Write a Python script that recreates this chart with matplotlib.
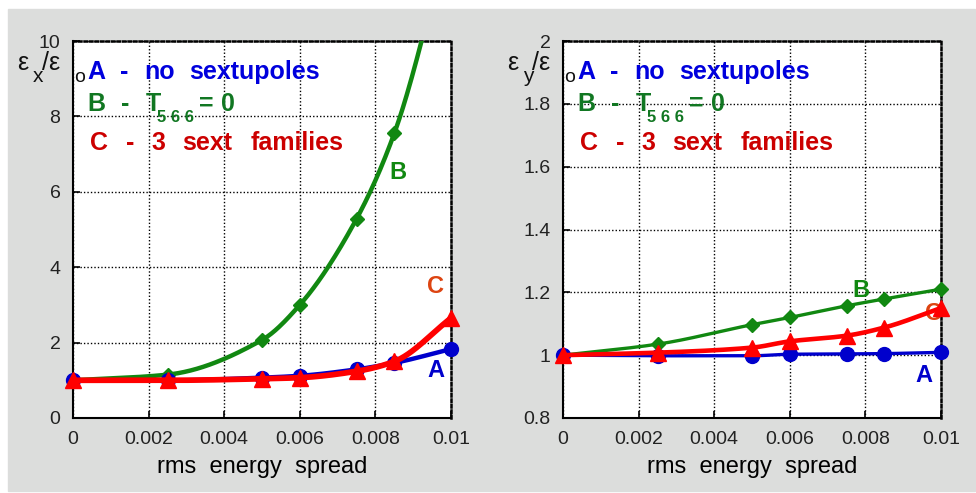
import numpy as np
import matplotlib
matplotlib.use("Agg")
import matplotlib.pyplot as plt
from matplotlib.patches import Rectangle

plt.rcParams['font.family'] = ['Liberation Sans', 'DejaVu Sans']

# rms energy spread sample points
spread = [0.0, 0.0025, 0.005, 0.006, 0.0075, 0.0085, 0.01]

# horizontal emittance growth eps_x / eps_0
ex_A = [1.0, 1.0, 1.07, 1.12, 1.29, 1.46, 1.83]
ex_B = [1.0, 1.15, 2.07, 3.0, 5.28, 7.55, 13.0]
ex_C = [1.0, 1.0, 1.04, 1.07, 1.24, 1.5, 2.65]

# vertical emittance growth eps_y / eps_0
ey_A = [1.0, 0.998, 0.998, 1.003, 1.004, 1.005, 1.009]
ey_B = [1.0, 1.035, 1.097, 1.12, 1.157, 1.179, 1.21]
ey_C = [1.0, 1.008, 1.024, 1.044, 1.062, 1.088, 1.15]

xticks = [0, 0.002, 0.004, 0.006, 0.008, 0.01]
xticklabels = ['0', '0.002', '0.004', '0.006', '0.008', '0.01']

blue = '#0000cc'
green = '#118811'
red = '#ff0000'


def pchip(x, y, xs):
    # monotone cubic through the points, used for the smooth curves
    x = np.asarray(x, float)
    y = np.asarray(y, float)
    h = np.diff(x)
    d = np.diff(y) / h
    m = np.zeros_like(y)
    m[0], m[-1] = d[0], d[-1]
    for k in range(1, len(x) - 1):
        if d[k - 1] * d[k] > 0:
            w1 = 2 * h[k] + h[k - 1]
            w2 = h[k] + 2 * h[k - 1]
            m[k] = (w1 + w2) / (w1 / d[k - 1] + w2 / d[k])
    i = np.clip(np.searchsorted(x, xs) - 1, 0, len(x) - 2)
    t = (xs - x[i]) / h[i]
    h00 = 2 * t**3 - 3 * t**2 + 1
    h10 = t**3 - 2 * t**2 + t
    h01 = -2 * t**3 + 3 * t**2
    h11 = t**3 - t**2
    return h00 * y[i] + h10 * h[i] * m[i] + h01 * y[i + 1] + h11 * h[i] * m[i + 1]


fig = plt.figure(figsize=(9.76, 4.93), dpi=100)
fig.patches.append(Rectangle((8 / 976, 2 / 493), 967 / 976, 482 / 493,
                             transform=fig.transFigure, color='#dcdddc', zorder=-10))

ax1 = fig.add_axes([73 / 976, 75 / 493, 378 / 976, 377 / 493])
ax2 = fig.add_axes([563 / 976, 75 / 493, 378 / 976, 377 / 493])

xs = np.linspace(0, 0.01, 300)


def series(ax, y, color, marker, ms, lw, z, ymax):
    ax.plot(xs, pchip(spread, y, xs), color=color, lw=lw, zorder=z)
    # markers may hang over the frame, but only for points inside the y range
    px = [a for a, b in zip(spread, y) if b <= ymax]
    py = [b for b in y if b <= ymax]
    ax.plot(px, py, marker, color=color, ms=ms, zorder=z, clip_on=False)


def draw(ax, a, b, c, lw, ymax):
    series(ax, b, green, 'D', 7, lw, 3, ymax)
    series(ax, a, blue, 'o', 10, lw, 4, ymax)
    series(ax, c, red, '^', 11, lw + 0.9, 5, ymax)


draw(ax1, ex_A, ex_B, ex_C, 3.2, 10)
draw(ax2, ey_A, ey_B, ey_C, 2.4, 2)

ax1.set_ylim(0, 10)
ax1.set_yticks([0, 2, 4, 6, 8, 10])
ax2.set_ylim(0.8, 2)
ax2.set_yticks([0.8, 1, 1.2, 1.4, 1.6, 1.8, 2])
ax2.set_yticklabels(['0.8', '1', '1.2', '1.4', '1.6', '1.8', '2'])

for ax in (ax1, ax2):
    ax.set_xlim(0, 0.01)
    ax.set_xticks(xticks)
    ax.set_xticklabels(xticklabels)
    ax.tick_params(direction='in', length=5, width=1.2, labelsize=14, pad=9)
    ax.grid(True, color='black', linestyle=(0, (1, 1.5)), linewidth=1)
    ax.set_axisbelow(True)
    ax.set_xlabel('rms  energy  spread', fontsize=17, labelpad=6)
    for s in ('left', 'bottom'):
        ax.spines[s].set_linewidth(1.5)
    for s in ('top', 'right'):
        ax.spines[s].set_linestyle((0, (1, 1.2)))
        ax.spines[s].set_linewidth(1.8)
    for lab in ax.get_xticklabels() + ax.get_yticklabels():
        lab.set_color('#222222')

# curve tags
ax1.text(0.0086, 6.5, 'B', color=green, fontsize=17, fontweight='bold', ha='center', va='center')
ax1.text(0.0096, 3.48, 'C', color='#dd4411', fontsize=17, fontweight='bold', ha='center', va='center')
ax1.text(0.0096, 1.27, 'A', color=blue, fontsize=17, fontweight='bold', ha='center', va='center')
ax2.text(0.00787, 1.207, 'B', color=green, fontsize=17, fontweight='bold', ha='center', va='center')
ax2.text(0.0098, 1.133, 'C', color='#dd4411', fontsize=17, fontweight='bold', ha='center', va='center', zorder=4)
ax2.text(0.00955, 0.935, 'A', color=blue, fontsize=17, fontweight='bold', ha='center', va='center')


def ftext(px, py, s, **kw):
    fig.text(px / 976, 1 - py / 493, s, va='center', **kw)


def key(px, py, words, color, size=18):
    for x, w in zip(px, words):
        ftext(x, py, w, color=color, fontsize=size, fontweight='bold')


# axis titles and the key, drawn for each panel
for dx, sub in ((0, 'x'), (490, 'y')):
    ftext(17 + dx, 63, 'ε', fontsize=18, color='#111111')
    ftext(33 + dx, 76, sub, fontsize=15, color='#111111')
    ftext(42 + dx, 63, '/ε', fontsize=18, color='#111111')
    ftext(74 + dx, 77, 'o', fontsize=14, color='#111111')
    key([87 + dx, 120 + dx, 144 + dx, 189 + dx], 72,
        ['A', '-', 'no', 'sextupoles'], '#0000dd')
    key([87 + dx, 121 + dx, 146 + dx, 199 + dx, 221 + dx], 104,
        ['B', '-', 'T', '=', '0'], '#117722')
    ftext(157 + dx, 118, '5 6 6', color='#117722', fontsize=12, fontweight='bold')
    key([90 + dx, 126 + dx, 151 + dx, 182 + dx, 251 + dx], 143,
        ['C', '-', '3', 'sext', 'families'], '#cc0000')

fig.savefig('out.png', dpi=100, facecolor='white')
